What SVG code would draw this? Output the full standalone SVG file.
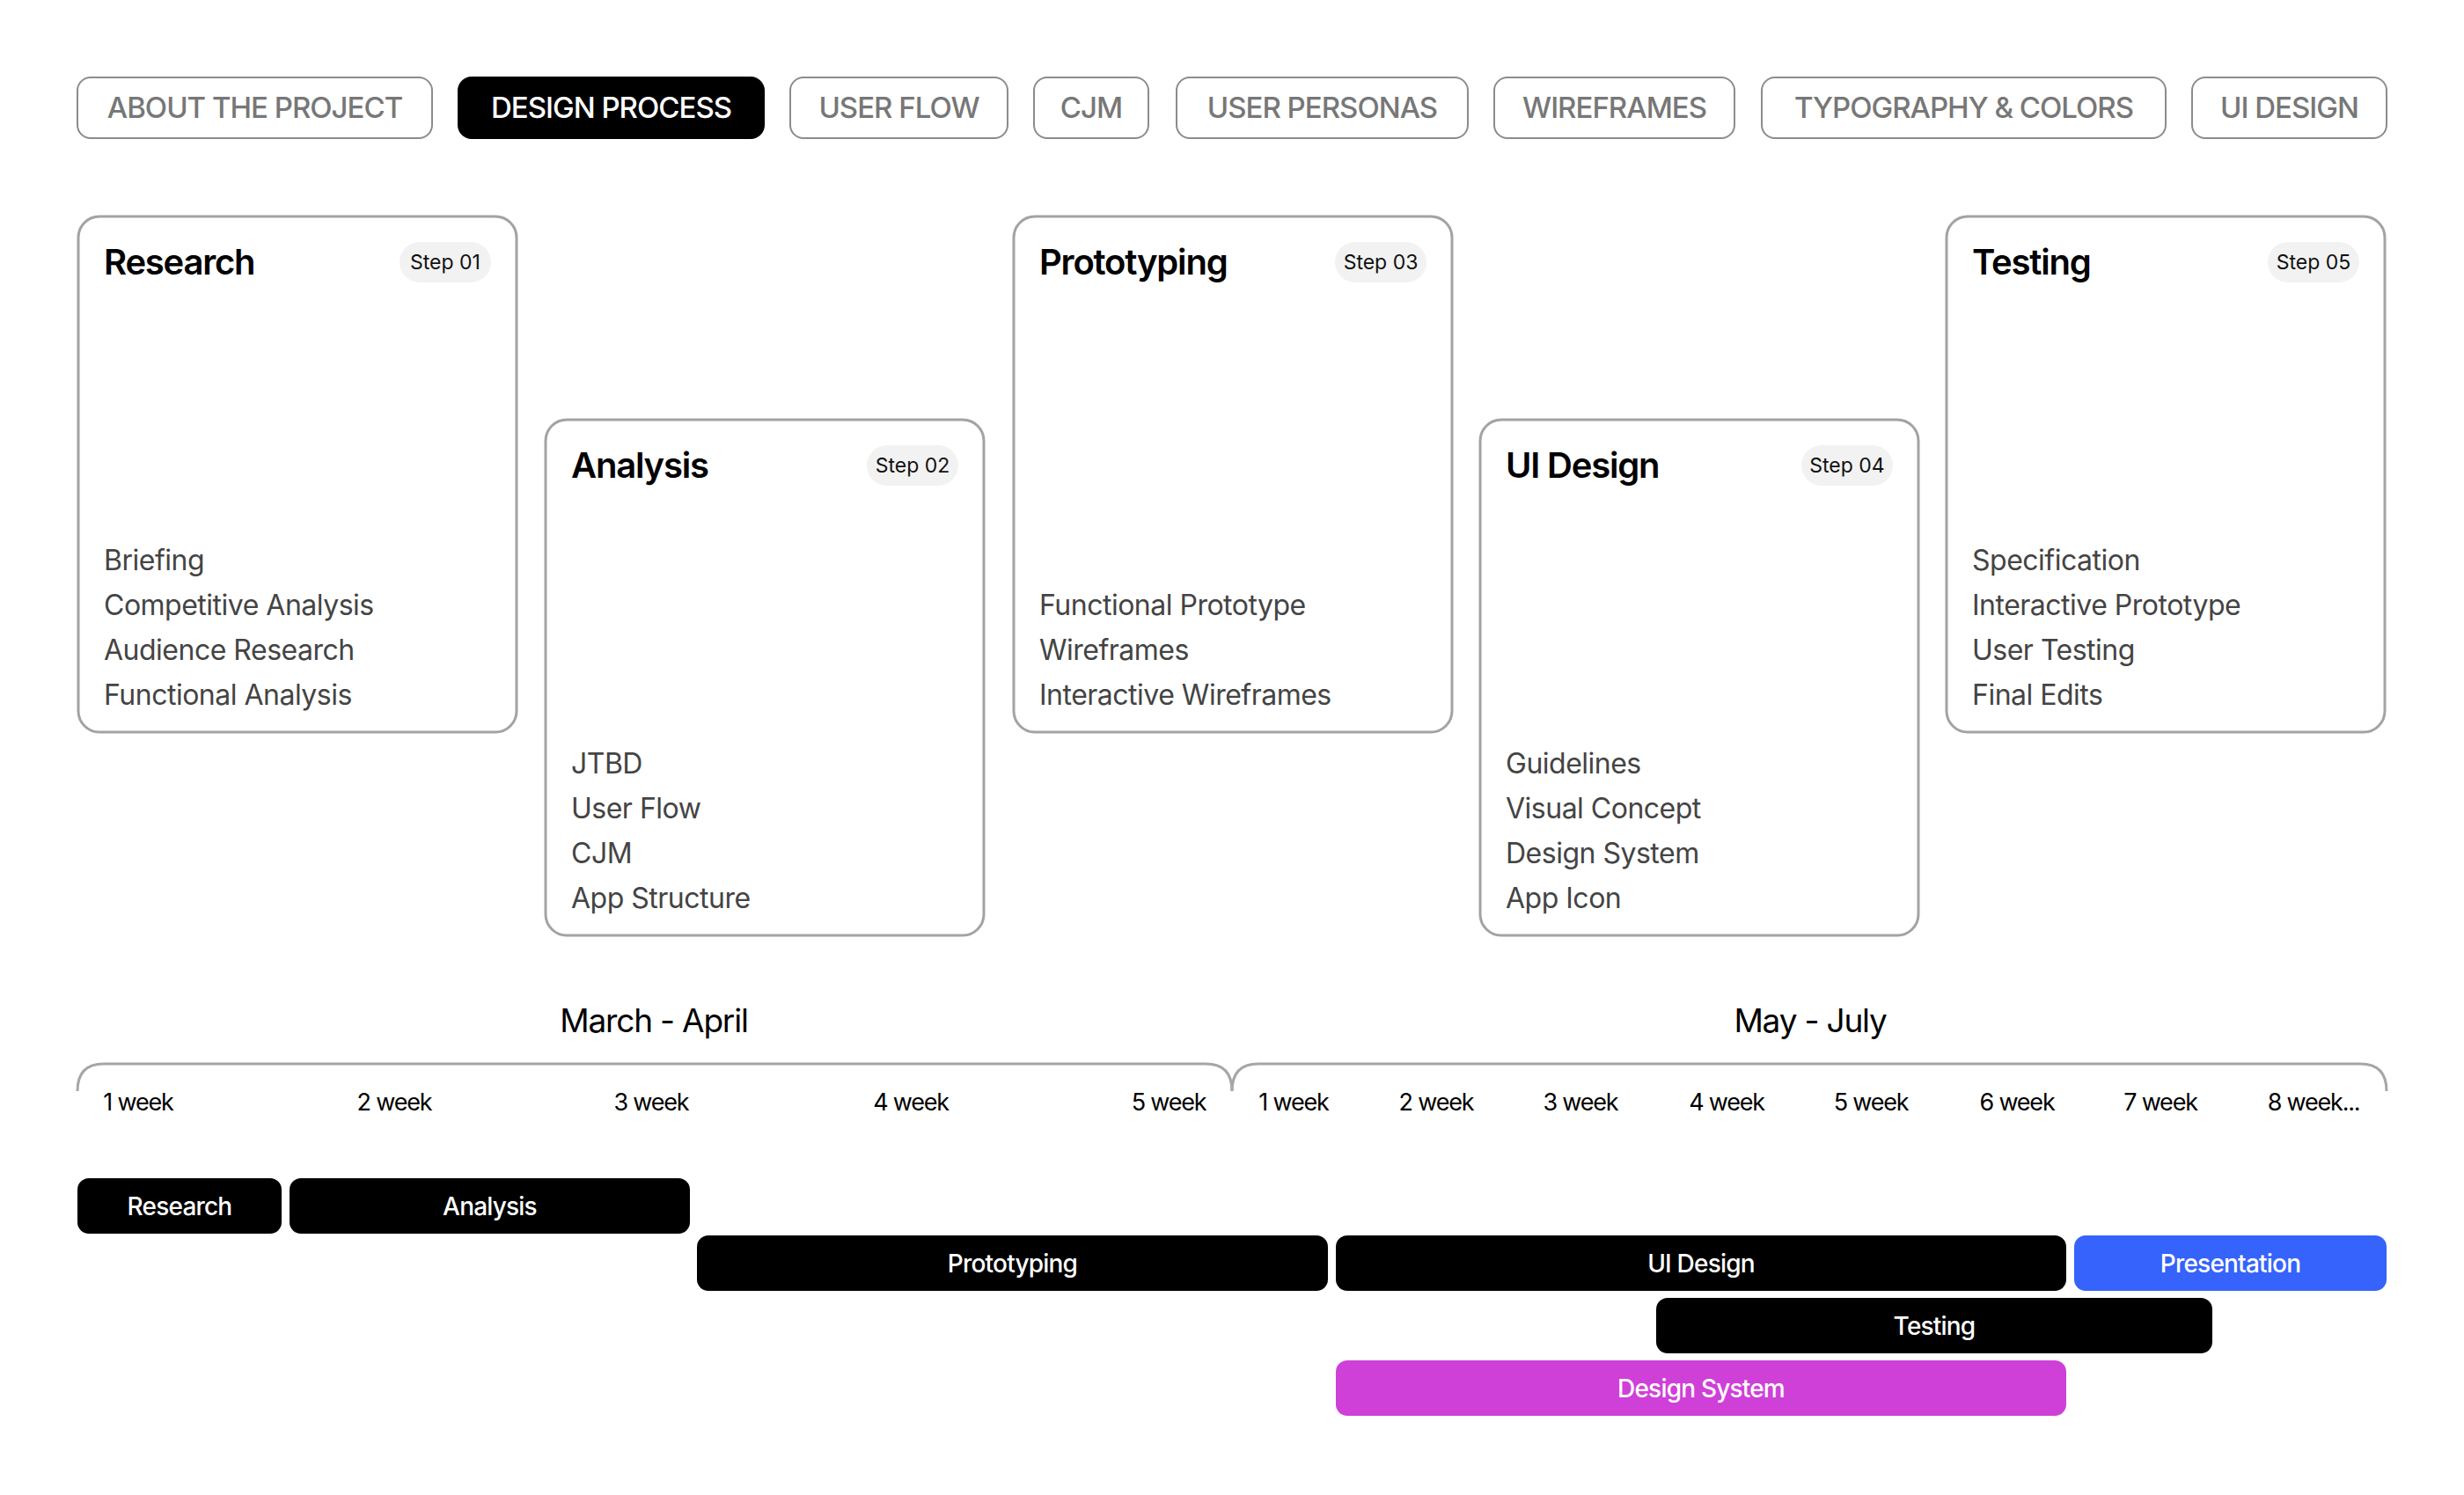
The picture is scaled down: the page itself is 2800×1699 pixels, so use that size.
<svg xmlns="http://www.w3.org/2000/svg" width="2800" height="1699" viewBox="0 0 2800 1699">
<style>
text{font-family:Inter,"Liberation Sans",Arial,sans-serif}
.tab{fill:#fff;stroke:#8c8c8c;stroke-width:2}
.tabA{fill:#000;stroke:#000;stroke-width:2}
.tabT{font-size:33px;font-weight:500;fill:#777;text-anchor:middle;letter-spacing:-1px}
.tabTA{font-size:33px;font-weight:500;fill:#fff;text-anchor:middle;letter-spacing:-1px}
.card{fill:#fff;stroke:#a3a3a3;stroke-width:3}
.title{font-size:40px;font-weight:600;fill:#000;letter-spacing:-1.2px}
.badge{fill:#f2f2f2}
.badgeT{font-size:23px;fill:#111;text-anchor:middle}
.item{font-size:32px;fill:#444;letter-spacing:-0.5px}
.brace{fill:none;stroke:#a6a6a6;stroke-width:3}
.month{font-size:37px;fill:#000;text-anchor:middle;letter-spacing:-1.2px}
.wk{font-size:27px;fill:#000;text-anchor:middle;letter-spacing:-1.2px}
.bar{fill:#000}
.barT{font-size:28px;font-weight:500;fill:#fff;text-anchor:middle;letter-spacing:-0.8px}
</style>
<rect width="2800" height="1699" fill="#fff"/>
<g id="tabs">
<g id="tab-about"><rect class="tab" x="88" y="88" width="403" height="69" rx="15"/><text class="tabT" x="289.5" y="134">ABOUT THE PROJECT</text></g>
<g id="tab-design-process"><rect class="tabA" x="521" y="88" width="347" height="69" rx="15"/><text class="tabTA" x="694.5" y="134">DESIGN PROCESS</text></g>
<g id="tab-user-flow"><rect class="tab" x="898" y="88" width="247" height="69" rx="15"/><text class="tabT" x="1021.5" y="134">USER FLOW</text></g>
<g id="tab-cjm"><rect class="tab" x="1175" y="88" width="130" height="69" rx="15"/><text class="tabT" x="1240" y="134">CJM</text></g>
<g id="tab-personas"><rect class="tab" x="1337" y="88" width="331" height="69" rx="15"/><text class="tabT" x="1502.5" y="134">USER PERSONAS</text></g>
<g id="tab-wireframes"><rect class="tab" x="1698" y="88" width="273" height="69" rx="15"/><text class="tabT" x="1834.5" y="134">WIREFRAMES</text></g>
<g id="tab-typography"><rect class="tab" x="2002" y="88" width="459" height="69" rx="15"/><text class="tabT" x="2231.5" y="134">TYPOGRAPHY &amp; COLORS</text></g>
<g id="tab-ui-design"><rect class="tab" x="2491" y="88" width="221" height="69" rx="15"/><text class="tabT" x="2601.5" y="134">UI DESIGN</text></g>
</g>
<g id="card-research">
<rect class="card" x="89" y="246" width="498" height="586" rx="24"/>
<text class="title" x="118" y="312">Research</text>
<rect class="badge" x="454" y="275" width="104" height="46" rx="23"/><text class="badgeT" x="506" y="306">Step 01</text>
<text class="item" x="118" y="648">Briefing</text>
<text class="item" x="118" y="699">Competitive Analysis</text>
<text class="item" x="118" y="750">Audience Research</text>
<text class="item" x="118" y="801">Functional Analysis</text>
</g>
<g id="card-analysis">
<rect class="card" x="620" y="477" width="498" height="586" rx="24"/>
<text class="title" x="649" y="543">Analysis</text>
<rect class="badge" x="985" y="506" width="104" height="46" rx="23"/><text class="badgeT" x="1037" y="537">Step 02</text>
<text class="item" x="649" y="879">JTBD</text>
<text class="item" x="649" y="930">User Flow</text>
<text class="item" x="649" y="981">CJM</text>
<text class="item" x="649" y="1032">App Structure</text>
</g>
<g id="card-prototyping">
<rect class="card" x="1152" y="246" width="498" height="586" rx="24"/>
<text class="title" x="1181" y="312">Prototyping</text>
<rect class="badge" x="1517" y="275" width="104" height="46" rx="23"/><text class="badgeT" x="1569" y="306">Step 03</text>
<text class="item" x="1181" y="699">Functional Prototype</text>
<text class="item" x="1181" y="750">Wireframes</text>
<text class="item" x="1181" y="801">Interactive Wireframes</text>
</g>
<g id="card-ui-design">
<rect class="card" x="1682" y="477" width="498" height="586" rx="24"/>
<text class="title" x="1711" y="543">UI Design</text>
<rect class="badge" x="2047" y="506" width="104" height="46" rx="23"/><text class="badgeT" x="2099" y="537">Step 04</text>
<text class="item" x="1711" y="879">Guidelines</text>
<text class="item" x="1711" y="930">Visual Concept</text>
<text class="item" x="1711" y="981">Design System</text>
<text class="item" x="1711" y="1032">App Icon</text>
</g>
<g id="card-testing">
<rect class="card" x="2212" y="246" width="498" height="586" rx="24"/>
<text class="title" x="2241" y="312">Testing</text>
<rect class="badge" x="2577" y="275" width="104" height="46" rx="23"/><text class="badgeT" x="2629" y="306">Step 05</text>
<text class="item" x="2241" y="648">Specification</text>
<text class="item" x="2241" y="699">Interactive Prototype</text>
<text class="item" x="2241" y="750">User Testing</text>
<text class="item" x="2241" y="801">Final Edits</text>
</g>
<g id="timeline">
<path class="brace" d="M88,1240 Q88,1209 118,1209 L1370,1209 Q1400,1209 1400,1240"/>
<path class="brace" d="M1400,1240 Q1400,1209 1430,1209 L2682,1209 Q2712,1209 2712,1240"/>
<text class="month" x="743" y="1173">March - April</text>
<text class="month" x="2057" y="1173">May - July</text>
<text class="wk" x="157" y="1262">1 week</text>
<text class="wk" x="448" y="1262">2 week</text>
<text class="wk" x="740" y="1262">3 week</text>
<text class="wk" x="1035" y="1262">4 week</text>
<text class="wk" x="1328" y="1262">5 week</text>
<text class="wk" x="1470" y="1262">1 week</text>
<text class="wk" x="1632" y="1262">2 week</text>
<text class="wk" x="1796" y="1262">3 week</text>
<text class="wk" x="1962" y="1262">4 week</text>
<text class="wk" x="2126" y="1262">5 week</text>
<text class="wk" x="2292" y="1262">6 week</text>
<text class="wk" x="2455" y="1262">7 week</text>
<text class="wk" x="2629" y="1262">8 week...</text>
</g>
<g id="gantt">
<g id="bar-research"><rect class="bar" x="88" y="1339" width="232" height="63" rx="13"/><text class="barT" x="204" y="1381">Research</text></g>
<g id="bar-analysis"><rect class="bar" x="329" y="1339" width="455" height="63" rx="13"/><text class="barT" x="556.5" y="1381">Analysis</text></g>
<g id="bar-prototyping"><rect class="bar" x="792" y="1404" width="717" height="63" rx="13"/><text class="barT" x="1150.5" y="1446">Prototyping</text></g>
<g id="bar-ui-design"><rect class="bar" x="1518" y="1404" width="830" height="63" rx="13"/><text class="barT" x="1933" y="1446">UI Design</text></g>
<g id="bar-presentation"><rect x="2357" y="1404" width="355" height="63" rx="13" fill="#3563fb"/><text class="barT" x="2534.5" y="1446">Presentation</text></g>
<g id="bar-testing"><rect class="bar" x="1882" y="1475" width="632" height="63" rx="13"/><text class="barT" x="2198" y="1517">Testing</text></g>
<g id="bar-design-system"><rect x="1518" y="1546" width="830" height="63" rx="13" fill="#cf40d8"/><text class="barT" x="1933" y="1588">Design System</text></g>
</g>
</svg>
